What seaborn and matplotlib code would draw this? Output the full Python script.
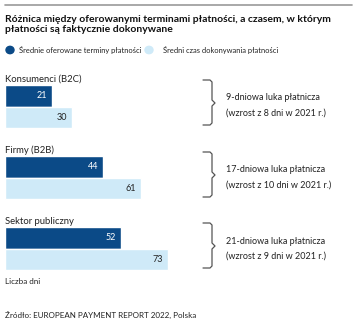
import matplotlib
matplotlib.use("Agg")
import matplotlib.pyplot as plt
import seaborn as sns
import pandas as pd
from matplotlib.lines import Line2D
from matplotlib.patches import Circle

categories = ["Konsumenci (B2C)", "Firmy (B2B)", "Sektor publiczny"]
offered = [21, 44, 52]
actual = [30, 61, 73]
series_names = ["Średnie oferowane terminy płatności", "Średni czas dokonywania płatności"]
gap_lines = [
    ("9-dniowa luka płatnicza", "(wzrost z 8 dni w 2021 r.)"),
    ("17-dniowa luka płatnicza", "(wzrost z 10 dni w 2021 r.)"),
    ("21-dniowa luka płatnicza", "(wzrost z 9 dni w 2021 r.)"),
]
title = "Różnica między oferowanymi terminami płatności, a czasem, w którym\npłatności są faktycznie dokonywane"
xlabel = "Liczba dni"
source = "Źródło: EUROPEAN PAYMENT REPORT 2022, Polska"

DARK = "#0b4a87"
LIGHT = "#cfeaf8"
TXT = "#222222"
GRAY = "#555555"

sns.set_theme(style="white")
plt.rcParams["font.family"] = ["Lato", "DejaVu Sans"]

W, H = 359, 329
fig = plt.figure(figsize=(W / 100, H / 100), dpi=100)

def fx(px):
    return px / W

def fy(py):
    return 1 - py / H

# axes: x=0 at px 5, 2.23 px/unit; y category 0 at px 106.5, 71 px/unit
ax_left, ax_right = 5, 359
ax_top, ax_bot = 71, 284
ax = fig.add_axes([fx(ax_left), fy(ax_bot), (ax_right - ax_left) / W, (ax_bot - ax_top) / H])

df = pd.DataFrame({
    "cat": categories * 2,
    "val": offered + actual,
    "series": [series_names[0]] * 3 + [series_names[1]] * 3,
})
sns.barplot(data=df, y="cat", x="val", hue="series", orient="h",
            palette=[DARK, LIGHT], width=0.6, dodge=True, ax=ax,
            legend=False, saturation=1)
ax.set_xlim(0, (ax_right - ax_left) / 2.23)
ax.set_ylim(2.5, -0.5)
ax.axis("off")

for i, cat in enumerate(categories):
    ax.text(0, i - 0.385, cat, fontsize=6.8, color=TXT, va="center", ha="left")
    ax.text(offered[i] - 2.2, i - 0.15, str(offered[i]), fontsize=6.5,
            color="white", va="center", ha="right")
    ax.text(actual[i] - 2.2, i + 0.15, str(actual[i]), fontsize=6.5,
            color=TXT, va="center", ha="right")

# braces and gap text (in figure pixels)
centers = [103, 175, 246]
for c, (l1, l2) in zip(centers, gap_lines):
    top, bot = c - 23, c + 22
    xs = [203, 210, 212, 212, 215, 212, 212, 210, 203]
    ys = [top, top, top + 2, c - 3, c, c + 3, bot - 2, bot, bot]
    fig.add_artist(Line2D([fx(x) for x in xs], [fy(y) for y in ys],
                          color=GRAY, lw=0.9, transform=fig.transFigure))
    fig.text(fx(226), fy(c - 5), l1, fontsize=6.5, color=TXT, va="center", ha="left")
    fig.text(fx(226), fy(c + 10), l2, fontsize=6.5, color=TXT, va="center", ha="left")

# top rule
fig.add_artist(Line2D([fx(5), fx(352)], [fy(5), fy(5)], color="#999999", lw=1.2,
                      transform=fig.transFigure))

fig.text(fx(5), fy(15), title, fontsize=7.5, fontweight="bold", color="#111111",
         va="top", ha="left", linespacing=1.2)

# legend
for cx, tx, name, col in [(10, 19, series_names[0], DARK), (149, 163, series_names[1], LIGHT)]:
    fig.add_artist(Circle((fx(cx), fy(50)), 4.0 / W, color=col,
                          transform=fig.transFigure))
    fig.text(fx(tx), fy(50), name, fontsize=5.4, color=TXT, va="center", ha="left")

fig.text(fx(5), fy(282), xlabel, fontsize=5.8, color=TXT, va="center", ha="left")
fig.text(fx(5), fy(315), source, fontsize=5.8, color=TXT, va="center", ha="left")

fig.savefig("out.png", dpi=100)
